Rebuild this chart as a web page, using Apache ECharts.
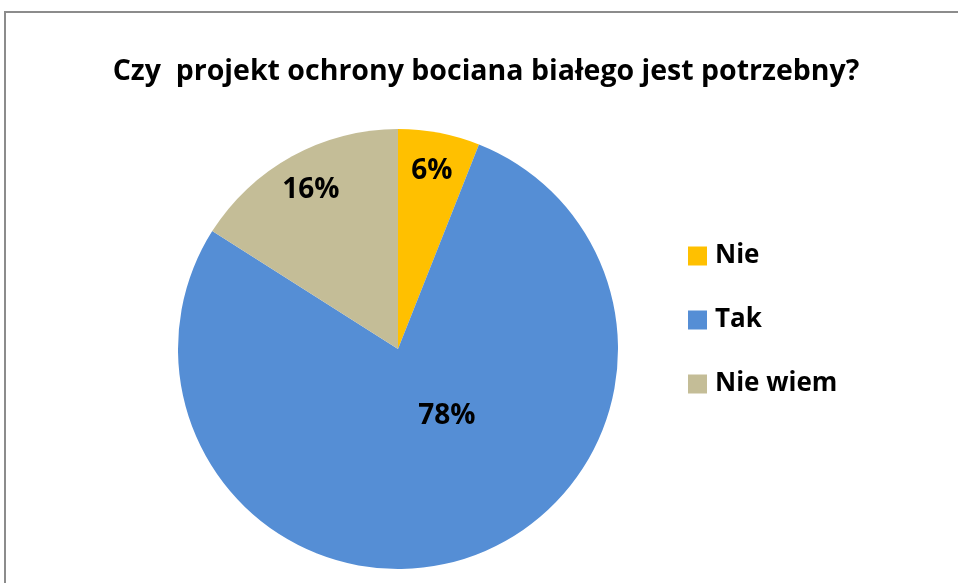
<!DOCTYPE html>
<html>
<head>
<meta charset="utf-8">
<script src="https://cdn.jsdelivr.net/npm/echarts@6/dist/echarts.min.js"></script>
<style>
    html, body { margin: 0; padding: 0; background: #fff; }
    #chart { width: 958px; height: 583px; }
</style>
</head>
<body>
<div id="chart"></div>
<script>
// dane z wykresu
var categories = ['Nie', 'Tak', 'Nie wiem']
var values = [6, 78, 16]
var colors = ['#FFC000', '#558ED5', '#C4BD97']

var font = 'Open Sans'
var myChart = echarts.init(document.getElementById('chart'))

var labelStyle = {
    position: 'inside',
    formatter: '{c}%',
    fontFamily: font,
    fontSize: 28,
    fontWeight: 'bold',
    color: '#000'
}

// main pie, no labels
var pieData = categories.map(function (name, i) {
    return { name: name, value: values[i], itemStyle: { color: colors[i] } }
})
// transparent copies, used only to place the labels like in Excel
function labelData(showFor) {
    return categories.map(function (name, i) {
        return {
            name: name,
            value: values[i],
            label: { show: showFor.indexOf(name) >= 0 }
        }
    })
}

var labelSeries = {
    type: 'pie',
    center: [398, 349],
    clockwise: true,
    silent: true,
    avoidLabelOverlap: false,
    label: labelStyle,
    labelLine: { show: false },
    itemStyle: { color: 'transparent', borderWidth: 0 },
    emphasis: { disabled: true },
    tooltip: { show: false }
}

var option = {
    animation: false,
    title: {
        text: 'Czy  projekt ochrony bociana białego jest potrzebny?',
        left: 481,
        textAlign: 'center',
        top: 52,
        textStyle: {
            fontFamily: font,
            fontSize: 28.5,
            fontWeight: 'bold',
            color: '#000'
        }
    },
    legend: {
        orient: 'vertical',
        left: 683,
        top: 238,
        itemWidth: 19,
        itemHeight: 19,
        itemGap: 38,
        icon: 'rect',
        textStyle: {
            fontFamily: font,
            fontSize: 26,
            fontWeight: 'bold',
            color: '#000',
            lineHeight: 26,
            padding: [0, 0, 0, 3]
        },
        data: categories
    },
    graphic: [{
        type: 'rect',
        shape: { x: 5, y: 12, width: 1000, height: 700 },
        style: { fill: 'none', stroke: '#8c8c8c', lineWidth: 2 },
        silent: true
    }],
    series: [{
        type: 'pie',
        center: [398, 349],
        radius: [0, 220],
        startAngle: 90,
        clockwise: true,
        label: { show: false },
        labelLine: { show: false },
        itemStyle: { borderWidth: 0 },
        emphasis: { disabled: true },
        data: pieData
    }, Object.assign({}, labelSeries, {
        radius: [136, 220],
        startAngle: 90,
        data: labelData(['Nie', 'Nie wiem'])
    }), Object.assign({}, labelSeries, {
        radius: [0, 160],
        startAngle: 108,
        data: labelData(['Tak'])
    })]
}

myChart.setOption(option)
window.addEventListener('resize', function () {
    myChart.resize()
})
</script>
</body>
</html>
